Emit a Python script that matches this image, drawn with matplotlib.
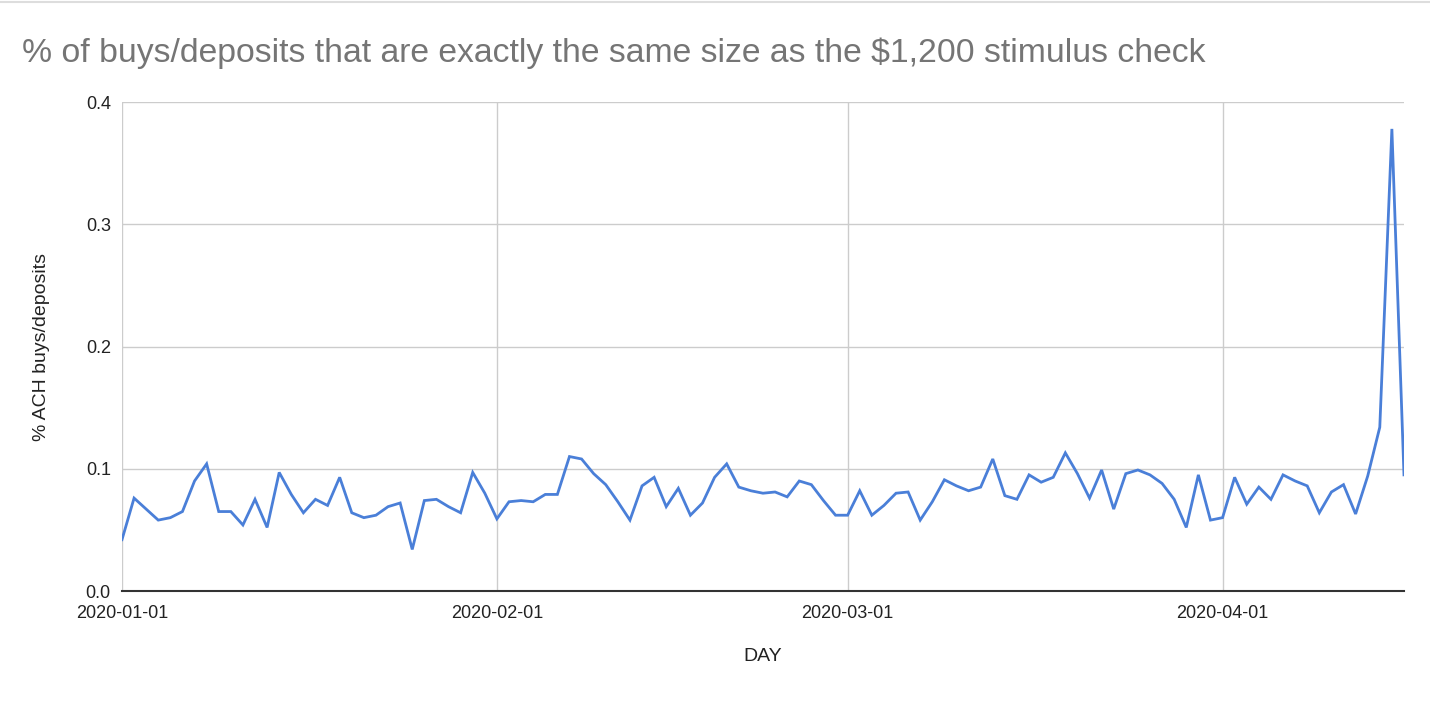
import numpy as np
import pandas as pd
import matplotlib
matplotlib.use('Agg')
import matplotlib.pyplot as plt
import matplotlib.dates as mdates

plt.rcParams['font.family'] = ['Liberation Sans', 'DejaVu Sans']

# daily share of ACH buys/deposits equal to $1,200
start_day = '2020-01-01'
pct_values = [
    0.042, 0.076, 0.067, 0.058, 0.060, 0.065, 0.090, 0.104, 0.065, 0.065,
    0.054, 0.075, 0.052, 0.097, 0.079, 0.064, 0.075, 0.070, 0.093, 0.064,
    0.060, 0.062, 0.069, 0.072, 0.034, 0.074, 0.075, 0.069, 0.064, 0.097,
    0.080, 0.059, 0.073, 0.074, 0.073, 0.079, 0.079, 0.110, 0.108, 0.096,
    0.087, 0.073, 0.058, 0.086, 0.093, 0.069, 0.084, 0.062, 0.072, 0.093,
    0.104, 0.085, 0.082, 0.080, 0.081, 0.077, 0.090, 0.087, 0.074, 0.062,
    0.062, 0.082, 0.062, 0.070, 0.080, 0.081, 0.058, 0.073, 0.091, 0.086,
    0.082, 0.085, 0.108, 0.078, 0.075, 0.095, 0.089, 0.093, 0.113, 0.096,
    0.076, 0.099, 0.067, 0.096, 0.099, 0.095, 0.088, 0.075, 0.052, 0.095,
    0.058, 0.060, 0.093, 0.071, 0.085, 0.075, 0.095, 0.090, 0.086, 0.064,
    0.081, 0.087, 0.063, 0.094, 0.134, 0.378, 0.095,
]
days = pd.date_range(start_day, periods=len(pct_values), freq='D')

month_ticks = pd.to_datetime(['2020-01-01', '2020-02-01', '2020-03-01', '2020-04-01'])
y_ticks = [0.0, 0.1, 0.2, 0.3, 0.4]

fig = plt.figure(figsize=(14.3, 7.02), dpi=100)
ax = fig.add_axes([0.0853, 0.1581, 0.8965, 0.6966])

ax.plot(days, pct_values, color='#4a7fd8', lw=2.0, solid_joinstyle='miter')

ax.set_xlim(days[0], days[-1])
ax.set_ylim(0, 0.4)
ax.set_xticks(month_ticks)
ax.xaxis.set_major_formatter(mdates.DateFormatter('%Y-%m-%d'))
ax.set_yticks(y_ticks)
ax.set_yticklabels([f'{v:.1f}' for v in y_ticks])

ax.grid(True, color='#cccccc', lw=1.0)
ax.set_axisbelow(True)
for side in ['top', 'right', 'left']:
    ax.spines[side].set_visible(False)
ax.spines['bottom'].set_color('#333333')
ax.spines['bottom'].set_linewidth(1.5)
ax.spines['bottom'].set_zorder(3)

ax.tick_params(axis='both', length=0, labelsize=13, colors='#222222')
ax.tick_params(axis='x', pad=10)
ax.tick_params(axis='y', pad=8)

ax.set_xlabel('DAY', fontsize=14, color='#222222', labelpad=19)
ax.set_ylabel('% ACH buys/deposits', fontsize=14, color='#222222', labelpad=26)

fig.text(0.0154, 0.9117, '% of buys/deposits that are exactly the same size as the $1,200 stimulus check',
         fontsize=24.3, color='#757575', ha='left', va='baseline')

# thin border at the top of the screenshot
fig.add_artist(plt.Line2D([0, 1], [0.997, 0.997], color='#dddddd', lw=1.5))

fig.savefig('out.png', dpi=100, facecolor='white')
